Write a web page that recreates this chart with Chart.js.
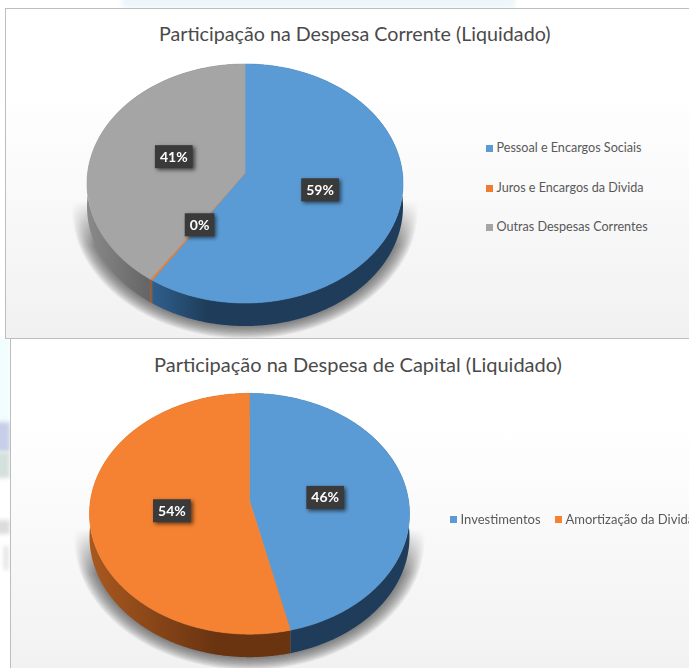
<!DOCTYPE html>
<html lang="pt">
<head>
<meta charset="utf-8">
<title>Participação na Despesa</title>
<script src="https://cdn.jsdelivr.net/npm/chart.js@4"></script>
<style>
    html, body { margin: 0; padding: 0; background: #fff; }
    body { position: relative; width: 689px; height: 668px; overflow: hidden; font-family: Lato, sans-serif; }
    .bg { position: absolute; filter: blur(2px); }
    .panel {
        position: absolute; right: -10px; overflow: hidden; box-sizing: border-box;
        border: 1px solid #bdbdbd; background: linear-gradient(#ffffff 25%, #f1f1f1 100%);
    }
    .panel canvas { position: absolute; left: 0; top: 0; }
    .title { position: absolute; margin: 0; font-weight: 400; color: #4a4a4a; white-space: nowrap; }
    .legend { position: absolute; margin: 0; padding: 0; list-style: none; color: #595959; white-space: nowrap; }
    .legend li { position: absolute; line-height: 16px; padding-left: 10.5px; }
    .legend i { position: absolute; left: 0; top: 5px; width: 7px; height: 7px; }
    #legendCorrente { font-size: 12.6px; }
    #legendCapital { font-size: 13px; }
    #panelCorrente { left: 5px; top: 8px; height: 331px; z-index: 1; }
    #panelCapital { left: 10px; top: 338px; height: 340px; z-index: 2; }
</style>
</head>
<body>
<div class="bg" style="left:122px;top:-4px;width:393px;height:12px;background:#eef6fa"></div>
<div class="bg" style="left:-4px;top:338px;width:14px;height:84px;background:#f0fdfd"></div>
<div class="bg" style="left:-4px;top:422px;width:14px;height:30px;background:#c6cee8"></div>
<div class="bg" style="left:-4px;top:452px;width:14px;height:26px;background:#d4e0dc"></div>
<div class="bg" style="left:-4px;top:520px;width:14px;height:14px;background:#dcdcdc"></div>
<div class="bg" style="left:4px;top:546px;width:4px;height:24px;background:#dedede"></div>

<div class="panel" id="panelCorrente">
    <h2 class="title" id="titleCorrente" style="left:153px;top:13px;font-size:19.7px"></h2>
    <canvas id="chartCorrente" width="478" height="329"></canvas>
    <ul class="legend" id="legendCorrente"></ul>
</div>
<div class="panel" id="panelCapital">
    <h2 class="title" id="titleCapital" style="left:143px;top:13px;font-size:20px"></h2>
    <canvas id="chartCapital" width="477" height="338"></canvas>
    <ul class="legend" id="legendCapital"></ul>
</div>

<script>
// =========================================================
// Data
// =========================================================
const correnteTitle = 'Participação na Despesa Corrente (Liquidado)';
const correnteLabels = ['Pessoal e Encargos Sociais', 'Juros e Encargos da Divida', 'Outras Despesas Correntes'];
const correnteValues = [59.2, 0.2, 40.6];

const capitalTitle = 'Participação na Despesa de Capital (Liquidado)';
const capitalLabels = ['Investimentos', 'Amortização da Divida'];
const capitalValues = [46.3, 53.7];

// =========================================================
// Colours
// =========================================================
const correnteColors = ['#5b9bd5', '#ed7d31', '#a5a5a5'];
const correnteWallLight = ['#2f5f8d', '#a5561f', '#8a8a8a'];
const correnteWallDark = ['#1f3d5a', '#a5561f', '#666666'];

const capitalColors = ['#5b9bd5', '#f58232'];
const capitalWallLight = ['#1f3d5a', '#a9591f'];
const capitalWallDark = ['#1f3d5a', '#6a3411'];

// =========================================================
// Tilted pie: the arcs come from the doughnut controller,
// this plugin only projects them onto the slanted disc
// =========================================================
const tiltedPie = {
    id: 'tiltedPie',
    beforeDatasetDraw(chart, args, opts) {
        const ctx = chart.ctx;
        const arcs = chart.getDatasetMeta(0).data;
        const total = chart.data.datasets[0].data.reduce((a, b) => a + b, 0);
        const { x: cx, y: cy, outerRadius: r } = arcs[0];
        const p = opts.perspective;
        const rimX = r * Math.sqrt(1 - p * p);
        const rimY = r * opts.tilt;

        const project = (angle, f = 1) => {
            const u = Math.cos(angle), v = Math.sin(angle);
            const d = 1 + p * v;
            return { x: cx + f * rimX * u / d, y: cy + f * rimY * v / d, v };
        };
        const rim = (a0, a1) => {
            const pts = [];
            const steps = Math.max(2, Math.ceil((a1 - a0) / 0.008));
            for (let i = 0; i <= steps; i++) pts.push(project(a0 + (a1 - a0) * i / steps));
            return pts;
        };

        // soft shadow below the disc: stacked see-through rings,
        // then faded out towards the top
        const layer = document.createElement('canvas');
        layer.width = chart.width;
        layer.height = chart.height;
        const shadowCtx = layer.getContext('2d');
        shadowCtx.fillStyle = 'rgba(60,60,60,0.085)';
        const whole = rim(0, Math.PI * 2);
        for (let ring = 10; ring >= 0; ring--) {
            const grow = 1 + ring * 1.5 / r;
            shadowCtx.beginPath();
            whole.forEach((pt, i) => {
                const x = cx + (pt.x - cx) * grow;
                const y = cy + (pt.y - cy) * grow + opts.depth;
                if (i) shadowCtx.lineTo(x, y); else shadowCtx.moveTo(x, y);
            });
            shadowCtx.closePath();
            shadowCtx.fill();
        }
        const fade = shadowCtx.createLinearGradient(0, cy + opts.shadowFrom, 0, cy + opts.shadowFrom + 45);
        fade.addColorStop(0, 'rgba(0,0,0,0)');
        fade.addColorStop(1, 'rgba(0,0,0,1)');
        shadowCtx.globalCompositeOperation = 'destination-in';
        shadowCtx.fillStyle = fade;
        shadowCtx.fillRect(0, 0, chart.width, chart.height);
        ctx.drawImage(layer, 0, 0, chart.width, chart.height);

        // side wall
        arcs.forEach((arc, i) => {
            const pts = rim(arc.startAngle, arc.endAngle);
            const low = pts.filter(pt => pt.v >= 0);
            if (!low.length) return;
            const left = Math.min(...low.map(pt => pt.x));
            const shade = ctx.createLinearGradient(left, 0, left + opts.wallSpan[i], 0);
            shade.addColorStop(0, opts.wallLight[i]);
            shade.addColorStop(1, opts.wallDark[i]);
            ctx.fillStyle = shade;
            ctx.beginPath();
            pts.forEach((pt, k) => k ? ctx.lineTo(pt.x, pt.y) : ctx.moveTo(pt.x, pt.y));
            pts.slice().reverse().forEach(pt => ctx.lineTo(pt.x, pt.y + opts.depth));
            ctx.closePath();
            ctx.fill();
        });

        // top face
        arcs.forEach(arc => {
            ctx.fillStyle = arc.options.backgroundColor;
            ctx.strokeStyle = arc.options.backgroundColor;
            ctx.lineWidth = 0.6;
            ctx.beginPath();
            ctx.moveTo(cx, cy);
            rim(arc.startAngle, arc.endAngle).forEach(pt => ctx.lineTo(pt.x, pt.y));
            ctx.closePath();
            ctx.fill();
            ctx.stroke();
        });

        // percent labels
        ctx.font = 'bold 14px Lato, sans-serif';
        ctx.textAlign = 'center';
        ctx.textBaseline = 'middle';
        arcs.forEach((arc, i) => {
            const value = chart.data.datasets[0].data[i];
            const text = Math.round(value / total * 100) + '%';
            const at = project((arc.startAngle + arc.endAngle) / 2, 0.485);
            const y = at.y + opts.labelDrop;
            const w = ctx.measureText(text).width + 10;
            const h = 23;
            ctx.save();
            ctx.shadowColor = 'rgba(0,0,0,0.6)';
            ctx.shadowBlur = 4;
            ctx.shadowOffsetX = 2;
            ctx.shadowOffsetY = 2;
            ctx.fillStyle = '#3a3a3a';
            ctx.fillRect(at.x - w / 2, y - h / 2, w, h);
            ctx.restore();
            ctx.fillStyle = '#ffffff';
            ctx.fillText(text, at.x, y + 0.5);
        });

        return false; // the arcs are already painted
    },
};

// =========================================================
// HTML legend
// =========================================================
function fillLegend(id, labels, colors, spots) {
    const list = document.getElementById(id);
    labels.forEach((label, i) => {
        const li = document.createElement('li');
        li.style.left = spots[i][0] + 'px';
        li.style.top = spots[i][1] + 'px';
        const box = document.createElement('i');
        box.style.background = colors[i];
        li.appendChild(box);
        li.appendChild(document.createTextNode(label));
        list.appendChild(li);
    });
}

// =========================================================
// Charts
// =========================================================
function makePie(canvasId, labels, values, colors, padding, look) {
    return new Chart(document.getElementById(canvasId), {
        type: 'pie',
        data: { labels, datasets: [{ data: values, backgroundColor: colors, borderWidth: 0 }] },
        options: {
            responsive: false,
            animation: false,
            layout: { padding },
            plugins: { legend: { display: false }, tooltip: { enabled: false }, tiltedPie: look },
        },
        plugins: [tiltedPie],
    });
}

document.getElementById('titleCorrente').textContent = correnteTitle;
document.getElementById('titleCapital').textContent = capitalTitle;

fillLegend('legendCorrente', correnteLabels, correnteColors, [[480, 131], [480, 171], [480, 210]]);
fillLegend('legendCapital', capitalLabels, capitalColors, [[439, 172], [544, 172]]);

makePie('chartCorrente', correnteLabels, correnteValues, correnteColors,
    { top: 6, bottom: 7, left: 0, right: 0 },
    { tilt: 0.7506, perspective: -0.088, depth: 23, shadowFrom: 28, labelDrop: 0,
      wallLight: correnteWallLight, wallDark: correnteWallDark, wallSpan: [55, 10, 60] });

makePie('chartCapital', capitalLabels, capitalValues, capitalColors,
    { top: 2, bottom: 16, left: 0, right: 0 },
    { tilt: 0.744, perspective: -0.106, depth: 23, shadowFrom: 28, labelDrop: 3,
      wallLight: capitalWallLight, wallDark: capitalWallDark, wallSpan: [10, 125] });
</script>
</body>
</html>
